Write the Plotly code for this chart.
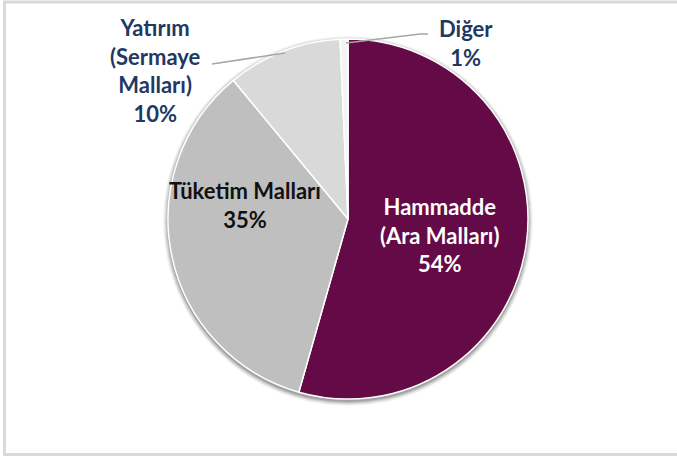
import plotly.graph_objects as go

categories = ["Hammadde (Ara Malları)", "Tüketim Malları", "Yatırım (Sermaye Malları)", "Diğer"]
values = [54.4, 34.6, 10.3, 0.7]
label_texts = ["Hammadde<br>(Ara Malları)<br>54%", "Tüketim Malları<br>35%",
               "Yatırım<br>(Sermaye<br>Malları)<br>10%", "Diğer<br>1%"]
colors = ["#630A47", "#BFBFBF", "#D9D9D9", "#F4F4F4"]

W, H = 677, 458
cx, cy, r = 348, 219, 180

fig = go.Figure()
fig.add_trace(go.Pie(
    labels=categories, values=values, sort=False, direction="clockwise", rotation=0,
    marker=dict(colors=colors, line=dict(color="white", width=1.5)),
    textinfo="none", hoverinfo="label+percent", showlegend=False,
    domain=dict(x=[(cx - r) / W, (cx + r) / W], y=[(H - cy - r) / H, (H - cy + r) / H]),
))

def px(x):
    return x / W

def py(y):
    return 1 - y / H

# soft shadow behind pie
for k, op in [(5, 0.04), (4, 0.06), (3, 0.08), (2, 0.10), (1, 0.14)]:
    fig.add_shape(type="circle", xref="paper", yref="paper", layer="below",
                  x0=px(cx - r - k), x1=px(cx + r + k), y0=py(cy + r + k + 2), y1=py(cy - r - k + 2),
                  line=dict(width=0), fillcolor=f"rgba(0,0,0,{op})")

font_family = "Lato, 'Liberation Sans', Arial, sans-serif"
ann = [
    (440, 235, label_texts[0], "white"),
    (245, 205, label_texts[1], "#111111"),
    (155, 71, label_texts[2], "#1F3864"),
    (466, 43, label_texts[3], "#1F3864"),
]
for x, y, t, c in ann:
    fig.add_annotation(x=px(x), y=py(y), xref="paper", yref="paper", text="<b>" + t + "</b>",
                       showarrow=False, font=dict(family=font_family, size=22, color=c),
                       align="center", xanchor="center", yanchor="middle")

# leader lines
fig.add_shape(type="line", xref="paper", yref="paper", x0=px(212), y0=py(64), x1=px(285), y1=py(53),
              line=dict(color="#A6A6A6", width=1.5))
fig.add_shape(type="path", xref="paper", yref="paper",
              path=f"M {px(346)} {py(43)} L {px(420)} {py(34)} L {px(428)} {py(34)}",
              line=dict(color="#A6A6A6", width=1.5))
# frame (left, top, bottom)
frame = dict(color="#D9D9D9", width=3)
fig.add_shape(type="line", xref="paper", yref="paper", x0=px(4.5), x1=px(4.5), y0=py(455), y1=py(1), line=frame)
fig.add_shape(type="line", xref="paper", yref="paper", x0=px(3), x1=1.0, y0=py(2), y1=py(2), line=frame)
fig.add_shape(type="line", xref="paper", yref="paper", x0=px(3), x1=1.0, y0=py(454.5), y1=py(454.5), line=frame)

fig.update_layout(width=W, height=H, margin=dict(l=0, r=0, t=0, b=0),
                  paper_bgcolor="white", plot_bgcolor="white")
fig.write_html("out.html", config={"displayModeBar": False},
               post_script=("document.body.style.margin='0';document.body.style.overflow='hidden';"
                            "document.documentElement.style.overflow='hidden';"))
